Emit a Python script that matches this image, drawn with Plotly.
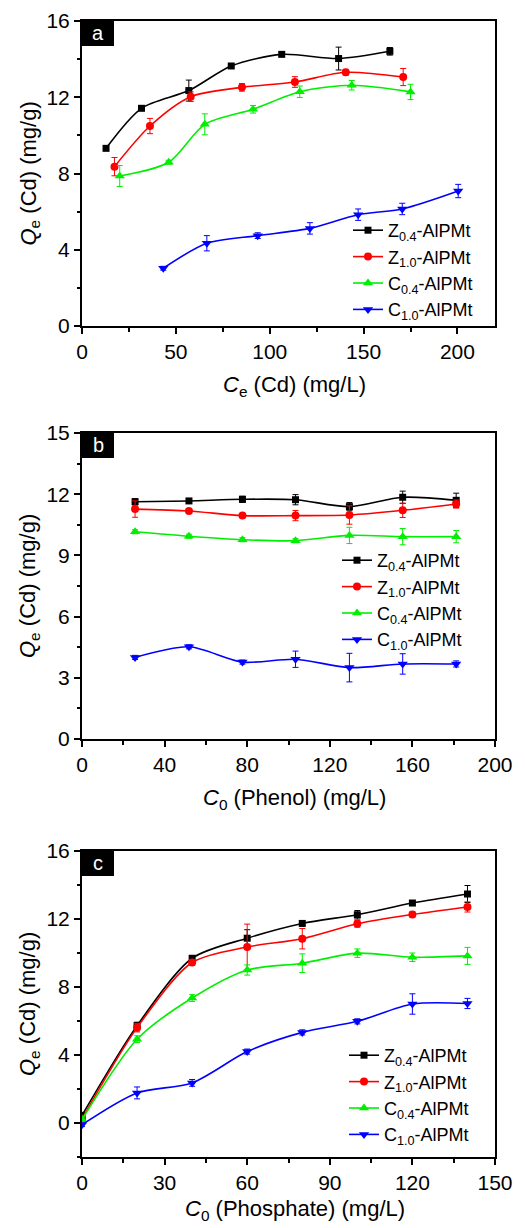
import plotly.graph_objects as go

# ---------------- data ----------------
names = ["Z<sub>0.4</sub>-AlPMt", "Z<sub>1.0</sub>-AlPMt", "C<sub>0.4</sub>-AlPMt", "C<sub>1.0</sub>-AlPMt"]
colors = ["#000000", "#FF0000", "#00EE00", "#0000FF"]
symbols = ["square", "circle", "triangle-up", "triangle-down"]
msizes = [7, 8, 9, 9]

# Panel a: Ce (Cd)
a_z04_x = [12.8, 31.7, 56.9, 79.5, 106.4, 136.7, 164.0]
a_z04_y = [9.32, 11.42, 12.35, 13.64, 14.25, 14.03, 14.41]
a_z04_e = [0.1, 0.1, 0.55, 0.1, 0.1, 0.6, 0.2]
a_z10_x = [17.3, 36.2, 57.9, 85.2, 113.4, 140.5, 171.1]
a_z10_y = [8.36, 10.49, 12.03, 12.52, 12.80, 13.31, 13.06]
a_z10_e = [0.48, 0.4, 0.25, 0.2, 0.28, 0.15, 0.45]
a_c04_x = [20.1, 46.2, 65.4, 91.1, 116.0, 143.7, 175.0]
a_c04_y = [7.87, 8.59, 10.58, 11.37, 12.29, 12.63, 12.28]
a_c04_e = [0.55, 0.1, 0.55, 0.2, 0.3, 0.25, 0.4]
a_c10_x = [43.3, 66.5, 93.6, 121.4, 147.1, 170.6, 200.4]
a_c10_y = [3.03, 4.34, 4.74, 5.12, 5.84, 6.14, 7.08]
a_c10_e = [0.1, 0.4, 0.15, 0.3, 0.3, 0.3, 0.35]

# Panel b: C0 (Phenol)
b_x = [25.7, 51.8, 77.7, 103.4, 129.5, 155.3, 181.2]
b_z04_y = [11.63, 11.67, 11.75, 11.73, 11.39, 11.85, 11.70]
b_z04_e = [0.15, 0.1, 0.15, 0.25, 0.2, 0.3, 0.35]
b_z10_y = [11.27, 11.18, 10.95, 10.95, 10.98, 11.21, 11.52]
b_z10_e = [0.4, 0.1, 0.1, 0.25, 0.45, 0.35, 0.2]
b_c04_y = [10.16, 9.94, 9.77, 9.72, 9.98, 9.92, 9.92]
b_c04_e = [0.1, 0.1, 0.1, 0.1, 0.4, 0.4, 0.3]
b_c10_y = [4.00, 4.52, 3.77, 3.91, 3.50, 3.68, 3.68]
b_c10_e = [0.1, 0.1, 0.1, 0.4, 0.7, 0.5, 0.15]

# Panel c: C0 (Phosphate)
c_x = [0, 20, 40, 60, 80, 100, 120, 140]
c_z04_y = [0.45, 5.73, 9.69, 10.87, 11.74, 12.25, 12.94, 13.47]
c_z04_e = [0.1, 0.2, 0.15, 0.5, 0.15, 0.25, 0.15, 0.5]
c_z10_y = [0.25, 5.61, 9.44, 10.35, 10.84, 11.72, 12.27, 12.71]
c_z10_e = [0.1, 0.25, 0.15, 1.35, 0.6, 0.2, 0.15, 0.3]
c_c04_y = [0.2, 4.93, 7.35, 9.00, 9.40, 9.99, 9.75, 9.83]
c_c04_e = [0.1, 0.2, 0.2, 0.3, 0.55, 0.25, 0.25, 0.5]
c_c10_y = [-0.1, 1.77, 2.36, 4.20, 5.33, 5.98, 7.00, 7.03]
c_c10_e = [0.1, 0.35, 0.2, 0.15, 0.15, 0.15, 0.6, 0.3]

panels = [
    dict(series=[(a_z04_x, a_z04_y, a_z04_e), (a_z10_x, a_z10_y, a_z10_e),
                 (a_c04_x, a_c04_y, a_c04_e), (a_c10_x, a_c10_y, a_c10_e)],
         label="a", xtitle="<i>C</i><sub>e</sub> (Cd) (mg/L)",
         xrange=[0, 220], xdtick=50, xminor=25, yrange=[0, 16], ydtick=4, yminor=2),
    dict(series=[(b_x, b_z04_y, b_z04_e), (b_x, b_z10_y, b_z10_e),
                 (b_x, b_c04_y, b_c04_e), (b_x, b_c10_y, b_c10_e)],
         label="b", xtitle="<i>C</i><sub>0</sub> (Phenol) (mg/L)",
         xrange=[0, 200], xdtick=40, xminor=20, yrange=[0, 15], ydtick=3, yminor=1.5),
    dict(series=[(c_x, c_z04_y, c_z04_e), (c_x, c_z10_y, c_z10_e),
                 (c_x, c_c04_y, c_c04_e), (c_x, c_c10_y, c_c10_e)],
         label="c", xtitle="<i>C</i><sub>0</sub> (Phosphate) (mg/L)",
         xrange=[0, 150], xdtick=30, xminor=15, yrange=[-2, 16], ydtick=4, yminor=2),
]

W, H = 525, 1228
XL, XR = 82, 495
PANEL_PX = [(21, 326), (433, 739), (851, 1157)]
LEG_PX = [(348, 212), (337, 542), (344, 1037)]
XTITLE_OFF = [60, 60, 53]
FONT = "Arial, Liberation Sans, sans-serif"

def py(p):
    return 1 - p / H

def px(p):
    return p / W

fig = go.Figure()
layout = dict(width=W, height=H, margin=dict(l=0, r=0, t=0, b=0, autoexpand=False),
              paper_bgcolor="white", plot_bgcolor="white",
              font=dict(family=FONT, color="black"), showlegend=True)
shapes, annots = [], []

for i, p in enumerate(panels):
    n = i + 1
    xa = "x" if n == 1 else f"x{n}"
    ya = "y" if n == 1 else f"y{n}"
    legname = "legend" if n == 1 else f"legend{n}"
    top, bot = PANEL_PX[i]
    for k, (xs, ys, es) in enumerate(p["series"]):
        fig.add_trace(go.Scatter(
            x=xs, y=ys, mode="lines+markers", name=names[k],
            line=dict(color=colors[k], width=1.6, shape="spline", smoothing=0.8),
            marker=dict(symbol=symbols[k], size=msizes[k], color=colors[k]),
            error_y=dict(type="data", array=es, visible=True, color=colors[k],
                         thickness=1, width=3),
            xaxis=xa, yaxis=ya, legend=legname))
    common = dict(showline=True, linewidth=2, linecolor="black", mirror=True,
                  ticks="outside", ticklen=6, tickwidth=1.5, tickcolor="black",
                  showgrid=False, zeroline=False,
                  tickfont=dict(size=21, family=FONT, color="black"))
    layout[f"xaxis{'' if n == 1 else n}"] = dict(
        domain=[px(XL), px(XR)], anchor=ya, range=p["xrange"], dtick=p["xdtick"], tick0=0,
        minor=dict(dtick=p["xminor"], tick0=0, ticks="outside", ticklen=3.5, tickwidth=1.5,
                   tickcolor="black"), **common)
    layout[f"yaxis{'' if n == 1 else n}"] = dict(
        domain=[py(bot), py(top)], anchor=xa, range=p["yrange"], dtick=p["ydtick"], tick0=0,
        minor=dict(dtick=p["yminor"], tick0=0, ticks="outside", ticklen=3.5, tickwidth=1.5,
                   tickcolor="black"), **common)
    # legend
    lx, ly = LEG_PX[i]
    layout[legname] = dict(x=px(lx), y=py(ly), xanchor="left", yanchor="top",
                           bgcolor="rgba(0,0,0,0)", borderwidth=0, tracegroupgap=0,
                           itemwidth=30, font=dict(size=18, family=FONT, color="black"))
    # panel label box
    shapes.append(dict(type="rect", xref="paper", yref="paper",
                       x0=px(XL), x1=px(XL + 32), y0=py(top + 25), y1=py(top),
                       fillcolor="black", line=dict(width=0)))
    annots.append(dict(text=p["label"], xref="paper", yref="paper",
                       x=px(XL + 16), y=py(top + 12), xanchor="center", yanchor="middle",
                       showarrow=False, font=dict(size=20, color="white", family=FONT)))
    # axis titles
    annots.append(dict(text="<i>Q</i><sub>e</sub> (Cd) (mg/g)", xref="paper", yref="paper",
                       x=px(29), y=py((top + bot) / 2), textangle=-90,
                       xanchor="center", yanchor="middle", showarrow=False,
                       font=dict(size=22, family=FONT, color="black")))
    annots.append(dict(text=p["xtitle"], xref="paper", yref="paper",
                       x=px((XL + XR) / 2 + 6), y=py(bot + XTITLE_OFF[i]),
                       xanchor="center", yanchor="middle",
                       showarrow=False, font=dict(size=22, family=FONT, color="black")))

layout["shapes"] = shapes
layout["annotations"] = annots
fig.update_layout(**layout)
fig.write_html("out.html", config={"displayModeBar": False},
               post_script="document.body.style.margin='0';")
